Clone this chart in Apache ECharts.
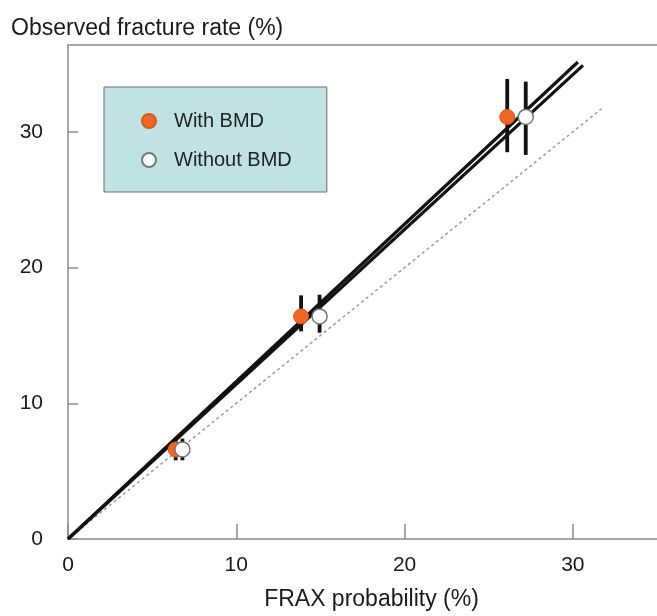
<!DOCTYPE html>
<html>
<head>
<meta charset="utf-8">
<script src="https://cdn.jsdelivr.net/npm/echarts@6/dist/echarts.min.js"></script>
<style>
  html, body { margin: 0; padding: 0; background: #fff; }
  #chart { width: 657px; height: 616px; }
</style>
</head>
<body>
<div id="chart"></div>
<script>
// FRAX probability (x) vs observed fracture rate (y), values in %
const withBmd = [[6.4, 6.6], [13.85, 16.4], [26.1, 31.1]];
const withoutBmd = [[6.8, 6.6], [14.95, 16.4], [27.2, 31.1]];
// error bars: [x, low, high]
const withBmdErr = [[6.4, 5.8, 7.3], [13.85, 15.3, 17.95], [26.1, 28.5, 33.9]];
const withoutBmdErr = [[6.8, 5.8, 7.4], [14.95, 15.2, 18.0], [27.2, 28.3, 33.7]];
// fitted lines and line of identity
const fitWith = [[0, 0], [30.3, 35.15]];
const fitWithout = [[0, 0], [30.6, 34.9]];
const identity = [[0.5, 0.5], [31.7, 31.7]];
const xTicks = [0, 10, 20, 30];
const yTicks = [0, 10, 20, 30];

const chart = echarts.init(document.getElementById('chart'));

function errorBar(params, api) {
  const p1 = api.coord([api.value(0), api.value(1)]);
  const p2 = api.coord([api.value(0), api.value(2)]);
  return {
    type: 'line',
    shape: { x1: p1[0], y1: p1[1], x2: p2[0], y2: p2[1] },
    style: { stroke: '#111', lineWidth: 3.8 }
  };
}

const axisColor = '#8c8c8c';
const font = 'Liberation Sans, Arial, sans-serif';

const option = {
  animation: false,
  title: {
    text: 'Observed fracture rate (%)',
    left: 6,
    top: 12,
    textStyle: { fontSize: 23, fontWeight: 'normal', color: '#1a1a1a', fontFamily: font }
  },
  legend: {
    orient: 'vertical',
    left: 104,
    top: 87,
    padding: [24, 35, 22, 37],
    itemGap: 19,
    itemWidth: 14,
    itemHeight: 14,
    backgroundColor: '#bfe2e5',
    borderColor: '#6b6b6b',
    borderWidth: 1,
    selectedMode: false,
    data: ['With BMD', 'Without BMD'],
    textStyle: { fontSize: 20, color: '#222', fontFamily: font, lineHeight: 20, padding: [0, 0, 0, 13] }
  },
  grid: { left: 68, top: 45, width: 593, height: 497 },
  xAxis: [{
    type: 'value',
    min: 0,
    max: 35,
    interval: 10,
    name: 'FRAX probability (%)',
    nameLocation: 'middle',
    nameGap: 49,
    nameTextStyle: { fontSize: 23, color: '#1a1a1a', fontFamily: font, padding: [0, 0, 0, 18] },
    axisLine: { lineStyle: { color: axisColor, width: 1.5 } },
    axisTick: { inside: true, length: 15, lineStyle: { color: axisColor, width: 1.5 } },
    axisLabel: {
      fontSize: 21, color: '#1a1a1a', fontFamily: font, margin: 16, showMaxLabel: false,
      formatter: v => (xTicks.includes(v) ? String(v) : '')
    },
    splitLine: { show: false }
  }, {
    type: 'value',
    position: 'top',
    min: 0,
    max: 35,
    axisLine: { show: true, lineStyle: { color: axisColor, width: 1.5 } },
    axisTick: { show: false },
    axisLabel: { show: false },
    splitLine: { show: false }
  }],
  yAxis: {
    type: 'value',
    min: 0,
    max: 36.4,
    interval: 10,
    axisLine: { show: true, lineStyle: { color: axisColor, width: 1.5 } },
    axisTick: { show: true, inside: true, length: 10, lineStyle: { color: '#8a8aa8', width: 1.5 } },
    axisLabel: {
      fontSize: 21, color: '#1a1a1a', fontFamily: font, margin: 25, showMaxLabel: false,
      formatter: v => (yTicks.includes(v) ? String(v) : '')
    },
    splitLine: { show: false }
  },
  series: [
    {
      type: 'line',
      data: identity,
      symbol: 'none',
      lineStyle: { color: '#9a9a9a', width: 1.5, type: [3, 3] },
      z: 1
    },
    {
      type: 'line',
      data: fitWith,
      symbol: 'none',
      lineStyle: { color: '#111', width: 3.2 },
      z: 2
    },
    {
      type: 'line',
      data: fitWithout,
      symbol: 'none',
      lineStyle: { color: '#111', width: 3.2 },
      z: 2
    },
    {
      type: 'custom',
      data: withBmdErr,
      renderItem: errorBar,
      encode: { x: 0, y: [1, 2] },
      z: 3
    },
    {
      type: 'custom',
      data: withoutBmdErr,
      renderItem: errorBar,
      encode: { x: 0, y: [1, 2] },
      z: 3
    },
    {
      name: 'With BMD',
      type: 'scatter',
      data: withBmd,
      symbolSize: 15,
      itemStyle: { color: '#f26522', borderColor: '#d9581d', borderWidth: 1, opacity: 1 },
      z: 5
    },
    {
      name: 'Without BMD',
      type: 'scatter',
      data: withoutBmd,
      symbolSize: 15,
      itemStyle: { color: '#ffffff', borderColor: '#777', borderWidth: 1.5, opacity: 1 },
      z: 5
    }
  ]
};

chart.setOption(option);
</script>
</body>
</html>
